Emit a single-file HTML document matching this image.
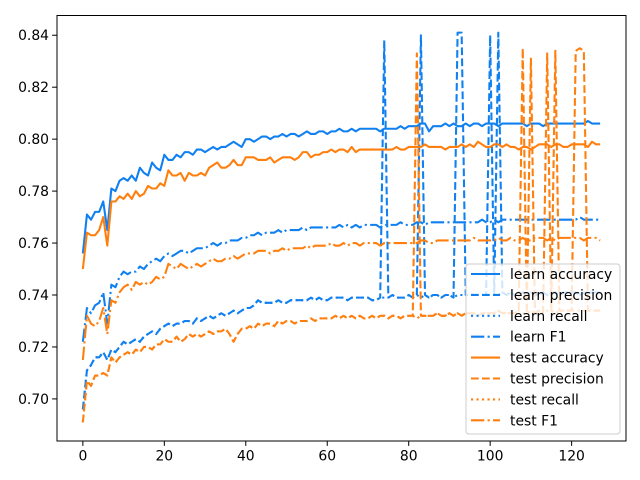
<!DOCTYPE html>
<html><head><meta charset="utf-8"><style>
html,body{margin:0;padding:0;background:#fff;}
svg{display:block;font-family:"DejaVu Sans","Liberation Sans",sans-serif;}
</style></head><body>
<svg id="chart" width="640" height="480" viewBox="0 0 640 480" xmlns="http://www.w3.org/2000/svg">
<rect x="0" y="0" width="640" height="480" fill="#fff"/>
<g id="plot"></g>
<g id="axes"></g>
<g id="legend"></g>
</svg>
<script>
const xTicks = [0,20,40,60,80,100,120];
const yTicks = [0.70,0.72,0.74,0.76,0.78,0.80,0.82,0.84];
const seriesNames = ["learn accuracy","learn precision","learn recall","learn F1","test accuracy","test precision","test recall","test F1"];

const learnAccuracy = [.756,.771,.769,.772,.772,.776,.765,.781,.780,.784,
.785,.784,.786,.784,.789,.787,.786,.791,.789,.788,
.794,.792,.792,.794,.793,.795,.795,.794,.796,.796,
.795,.796,.797,.796,.797,.797,.798,.799,.798,.797,
.800,.800,.799,.800,.801,.801,.800,.801,.801,.802,
.801,.802,.802,.801,.802,.803,.802,.802,.803,.803,
.802,.803,.803,.804,.803,.803,.804,.803,.804,.804,
.804,.804,.804,.803,.804,.804,.804,.804,.805,.804,
.805,.805,.805,.806,.806,.803,.805,.805,.805,.806,
.805,.806,.805,.805,.806,.805,.806,.806,.805,.806,
.806,.806,.805,.806,.806,.806,.806,.806,.806,.805,
.806,.806,.806,.805,.806,.806,.806,.806,.806,.806,
.806,.806,.806,.806,.807,.806,.806,.806];

const learnPrecision = [.696,.711,.713,.716,.716,.718,.715,.719,.718,.720,
.722,.721,.722,.723,.722,.724,.725,.726,.725,.727,
.728,.729,.728,.729,.729,.730,.730,.729,.731,.730,
.731,.732,.731,.732,.733,.732,.733,.734,.733,.734,
.735,.735,.736,.738,.737,.737,.737,.737,.738,.737,
.737,.738,.738,.738,.738,.738,.739,.738,.739,.738,
.738,.739,.739,.739,.739,.738,.739,.739,.739,.739,
.739,.738,.738,.739,.838,.739,.740,.739,.739,.739,
.740,.739,.740,.840,.740,.739,.740,.740,.739,.740,
.740,.739,.841,.841,.740,.740,.740,.740,.740,.740,
.840,.740,.841,.741,.740,.741,.740,.740,.741,.740,
.741,.740,.740,.741,.740,.741,.741,.740,.741,.741,
.741,.741,.740,.741,.741,.741,.741,.741];

const learnRecall = [.696,.711,.713,.716,.716,.718,.715,.719,.718,.720,
.722,.721,.722,.723,.722,.724,.725,.726,.725,.727,
.728,.729,.728,.729,.729,.730,.730,.729,.731,.730,
.731,.732,.731,.732,.733,.732,.733,.734,.733,.734,
.735,.735,.736,.738,.737,.737,.737,.737,.738,.737,
.737,.738,.738,.738,.738,.738,.739,.738,.739,.738,
.738,.739,.739,.739,.739,.738,.739,.739,.739,.739,
.739,.738,.738,.739,.739,.739,.740,.739,.739,.739,
.740,.739,.740,.739,.740,.739,.740,.740,.739,.740,
.740,.739,.740,.740,.740,.740,.740,.740,.740,.740,
.740,.740,.740,.741,.740,.741,.740,.740,.741,.740,
.741,.740,.740,.741,.740,.741,.741,.740,.741,.741,
.741,.741,.740,.741,.741,.741,.741,.741];

const learnF1 = [.722,.735,.733,.736,.737,.741,.729,.744,.743,.747,
.749,.748,.749,.749,.751,.750,.752,.753,.754,.753,
.755,.756,.755,.756,.757,.757,.756,.757,.758,.758,
.758,.759,.760,.759,.760,.760,.761,.761,.761,.762,
.762,.763,.763,.764,.763,.764,.764,.764,.765,.764,
.765,.765,.765,.765,.766,.765,.766,.766,.766,.766,
.766,.766,.766,.767,.766,.767,.766,.767,.766,.767,
.767,.767,.767,.766,.767,.767,.767,.767,.768,.767,
.767,.767,.768,.768,.767,.768,.768,.768,.768,.768,
.768,.768,.768,.768,.768,.768,.768,.768,.769,.768,
.768,.769,.768,.769,.769,.769,.769,.769,.769,.769,
.769,.769,.769,.769,.769,.769,.769,.769,.769,.769,
.769,.769,.770,.769,.769,.769,.769,.769];

const testAccuracy = [.750,.764,.763,.763,.765,.770,.759,.776,.776,.778,
.777,.779,.777,.780,.778,.779,.782,.781,.781,.783,
.782,.788,.786,.786,.787,.784,.787,.786,.786,.787,
.786,.789,.790,.791,.789,.789,.790,.792,.790,.790,
.793,.793,.793,.792,.792,.792,.793,.791,.792,.793,
.793,.793,.792,.793,.795,.795,.793,.794,.794,.795,
.795,.796,.795,.796,.796,.795,.797,.795,.796,.796,
.796,.796,.796,.796,.796,.796,.796,.797,.796,.796,
.797,.797,.797,.797,.798,.797,.797,.797,.797,.796,
.797,.797,.797,.798,.797,.798,.797,.799,.798,.797,
.797,.798,.798,.797,.798,.797,.797,.796,.797,.797,
.796,.797,.798,.798,.798,.797,.798,.798,.797,.797,
.798,.798,.798,.798,.797,.799,.798,.798];

const testPrecision = [.691,.707,.705,.709,.709,.710,.709,.716,.714,.716,
.717,.718,.717,.719,.718,.720,.720,.719,.721,.721,
.723,.722,.722,.724,.722,.723,.725,.724,.725,.724,
.725,.726,.725,.726,.726,.727,.725,.722,.725,.727,
.727,.728,.727,.729,.728,.729,.729,.728,.730,.729,
.730,.730,.729,.730,.730,.730,.731,.730,.731,.731,
.731,.731,.732,.731,.732,.731,.732,.731,.732,.731,
.731,.732,.731,.732,.732,.731,.732,.732,.731,.732,
.732,.732,.833,.732,.732,.732,.732,.733,.732,.732,
.733,.732,.733,.732,.733,.733,.733,.732,.733,.733,
.733,.733,.734,.733,.733,.733,.733,.734,.835,.733,
.831,.733,.734,.733,.833,.734,.834,.734,.734,.734,
.734,.834,.835,.834,.734,.734,.734,.734];

const testRecall = [.691,.707,.705,.709,.709,.710,.709,.716,.714,.716,
.717,.718,.717,.719,.718,.720,.720,.719,.721,.721,
.723,.722,.722,.724,.722,.723,.725,.724,.725,.724,
.725,.726,.725,.726,.726,.727,.725,.722,.725,.727,
.727,.728,.727,.729,.728,.729,.729,.728,.730,.729,
.730,.730,.729,.730,.730,.730,.731,.730,.731,.731,
.731,.731,.732,.731,.732,.731,.732,.731,.732,.731,
.731,.732,.731,.732,.732,.731,.732,.732,.731,.732,
.732,.732,.731,.732,.732,.732,.732,.733,.732,.732,
.733,.732,.733,.732,.733,.733,.733,.732,.733,.733,
.733,.733,.734,.733,.733,.733,.733,.734,.733,.733,
.734,.733,.734,.733,.734,.734,.733,.734,.734,.734,
.734,.734,.734,.734,.734,.734,.734,.734];

const testF1 = [.715,.732,.729,.728,.730,.735,.725,.738,.737,.741,
.743,.744,.742,.745,.744,.745,.744,.745,.747,.746,
.747,.752,.751,.750,.752,.751,.750,.751,.752,.751,
.752,.753,.754,.753,.753,.754,.754,.755,.754,.755,
.756,.756,.756,.757,.757,.757,.756,.757,.757,.758,
.757,.758,.758,.758,.758,.759,.758,.759,.759,.759,
.759,.760,.759,.759,.760,.759,.760,.760,.759,.760,
.760,.760,.760,.759,.760,.760,.760,.760,.760,.760,
.760,.760,.760,.761,.761,.760,.760,.761,.761,.761,
.761,.761,.761,.761,.761,.761,.762,.761,.761,.761,
.761,.761,.762,.761,.761,.762,.761,.761,.762,.761,
.761,.762,.762,.762,.761,.762,.761,.762,.762,.762,
.762,.762,.762,.761,.762,.762,.762,.761];

const L=57, R=626, T=15.5, B=441;
const XMIN=-6.35, XMAX=133.35, YMIN=0.6838, YMAX=0.8476;
function sx(v){return L+(v-XMIN)/(XMAX-XMIN)*(R-L);}
function sy(v){return B-(v-YMIN)/(YMAX-YMIN)*(B-T);}
const NS="http://www.w3.org/2000/svg";
function mk(tag,attrs,parent){const e=document.createElementNS(NS,tag);for(const k in attrs)e.setAttribute(k,attrs[k]);parent.appendChild(e);return e;}

const BLUE="#1080f0", ORANGE="#ff7f0e";
const dashes={solid:"",dashed:"7.7,3.3",dotted:"2.1,3.4",dashdot:"13.3,3.3,2.1,3.3"};
const styles=[[BLUE,"solid"],[BLUE,"dashed"],[BLUE,"dotted"],[BLUE,"dashdot"],[ORANGE,"solid"],[ORANGE,"dashed"],[ORANGE,"dotted"],[ORANGE,"dashdot"]];
const allData=[learnAccuracy,learnPrecision,learnRecall,learnF1,testAccuracy,testPrecision,testRecall,testF1];
const slugs=["learn-accuracy","learn-precision","learn-recall","learn-f1","test-accuracy","test-precision","test-recall","test-f1"];

const plot=document.getElementById('plot');
const clip=mk('clipPath',{id:'clp'},plot);
mk('rect',{x:L,y:T,width:R-L,height:B-T},clip);
allData.forEach((arr,si)=>{
  const d=arr.map((v,i)=>(i?'L':'M')+sx(i).toFixed(2)+','+sy(v).toFixed(2)).join(' ');
  const p=mk('path',{d:d,fill:'none',stroke:styles[si][0],'stroke-width':2.08,'stroke-linejoin':'round','clip-path':'url(#clp)'},plot);
  if(dashes[styles[si][1]])p.setAttribute('stroke-dasharray',dashes[styles[si][1]]);
  
  
});

const axes=document.getElementById('axes');
const frame=mk('rect',{x:L,y:T,width:R-L,height:B-T,fill:'none',stroke:'#000','stroke-width':1},axes);


xTicks.forEach(t=>{
  const x=sx(t);
  const tk=mk('line',{x1:x,x2:x,y1:B,y2:B+4.9,stroke:'#000','stroke-width':1},axes);
  
  
  const tx=mk('text',{x:x,y:B+19.5,'text-anchor':'middle','font-size':13.9,fill:'#000'},axes);
  tx.textContent=String(t);
  
  
});
yTicks.forEach(t=>{
  const y=sy(t);
  const tk=mk('line',{x1:L-4.9,x2:L,y1:y,y2:y,stroke:'#000','stroke-width':1},axes);
  
  
  const tx=mk('text',{x:L-8,y:y+5,'text-anchor':'end','font-size':13.9,fill:'#000'},axes);
  tx.textContent=t.toFixed(2);
  
  
});

const lg=document.getElementById('legend');
const box=mk('rect',{x:466,y:264,width:154,height:170,rx:3,fill:'#fff','fill-opacity':0.8,stroke:'#ccc','stroke-width':1},lg);


seriesNames.forEach((n,i)=>{
  const y=274+i*20.9;
  const g=mk('g',{},lg);
  
  
  const ln=mk('line',{x1:471,x2:500,y1:y,y2:y,stroke:styles[i][0],'stroke-width':2.08},g);
  if(dashes[styles[i][1]])ln.setAttribute('stroke-dasharray',dashes[styles[i][1]]);
  const tx=mk('text',{x:510,y:y+5,'font-size':13.9,fill:'#000'},g);
  tx.textContent=n;
});
</script>
</body></html>
